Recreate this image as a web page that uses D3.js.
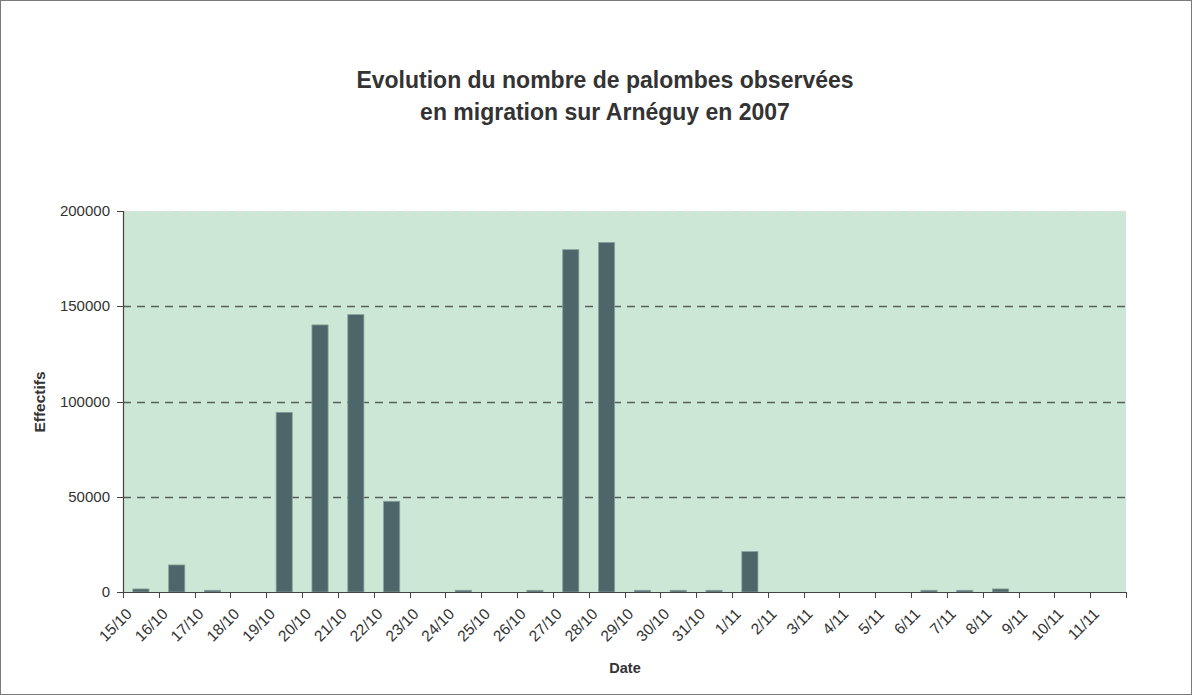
<!DOCTYPE html>
<html><head><meta charset="utf-8">
<script src="https://cdn.jsdelivr.net/npm/d3@7"></script>
<style>body{margin:0;background:#fff}svg{display:block}text{font-family:"Liberation Sans",Arial,sans-serif}</style>
</head><body>
<svg id="c" width="1192" height="695"></svg>
<script>
const categories = ["15/10","16/10","17/10","18/10","19/10","20/10","21/10","22/10","23/10","24/10","25/10","26/10","27/10","28/10","29/10","30/10","31/10","1/11","2/11","3/11","4/11","5/11","6/11","7/11","8/11","9/11","10/11","11/11"];
const values = [1600,14200,900,0,94300,140200,145600,47600,0,900,0,900,179700,183500,900,900,900,21200,0,0,0,0,900,900,1600,0,0,0];
const yTicks = [0,50000,100000,150000,200000];
const titleLines = ["Evolution du nombre de palombes observées","en migration sur Arnéguy en 2007"];

const svg = d3.select("#c");
const W = 1192, H = 695;
const m = {l:123, r:1126, t:211, b:592};

svg.append("rect").attr("x",0.5).attr("y",0.5).attr("width",W-1).attr("height",H-1)
  .attr("fill","#fff").attr("stroke","#7a7a7a");

const x = d3.scaleBand().domain(categories).range([m.l,m.r]).paddingInner(0.55).paddingOuter(0.275);
const xb = d3.scaleBand().domain(categories).range([m.l,m.r]);
const y = d3.scaleLinear().domain([0,200000]).range([m.b,m.t]);

svg.append("rect").attr("x",m.l).attr("y",m.t).attr("width",m.r-m.l).attr("height",m.b-m.t).attr("fill","#cde7d6");

// grid
svg.append("g").selectAll("line").data(yTicks.filter(d=>d>0)).join("line")
  .attr("x1",m.l).attr("x2",m.r).attr("y1",d=>Math.round(y(d))+0.5).attr("y2",d=>Math.round(y(d))+0.5)
  .attr("stroke",d=>d===200000?"#dde3dd":"#56605b").attr("stroke-width",1.3).attr("stroke-dasharray","8,6");

// bars
svg.append("g").selectAll("rect").data(values).join("rect")
  .attr("x",(d,i)=>x(categories[i])).attr("width",x.bandwidth())
  .attr("y",d=>y(d)).attr("height",d=>m.b-y(d))
  .attr("fill","#4e6669").attr("stroke","#86a09c").attr("stroke-width",0.8);

// x axis
const xa = svg.append("g");
xa.append("line").attr("x1",m.l).attr("x2",m.r).attr("y1",m.b+0.5).attr("y2",m.b+0.5).attr("stroke","#444").attr("stroke-width",1.2);
const bounds = categories.map(c=>xb(c)).concat([m.r]);
xa.selectAll("line.t").data(bounds).join("line").attr("class","t")
  .attr("x1",d=>Math.round(d)+0.5).attr("x2",d=>Math.round(d)+0.5).attr("y1",m.b).attr("y2",m.b+6).attr("stroke","#444");
xa.selectAll("text").data(categories).join("text")
  .attr("transform",d=>`translate(${xb(d)+xb.bandwidth()/2-8},${m.b+23}) rotate(-45)`)
  .attr("text-anchor","end").attr("font-size",15.5).attr("fill","#333").text(d=>d);

// y axis
const ya = svg.append("g");
ya.append("line").attr("x1",m.l+0.5).attr("x2",m.l+0.5).attr("y1",m.t).attr("y2",m.b).attr("stroke","#444").attr("stroke-width",1.2);
ya.selectAll("line.t").data(yTicks).join("line").attr("class","t")
  .attr("x1",m.l-6).attr("x2",m.l).attr("y1",d=>Math.round(y(d))+0.5).attr("y2",d=>Math.round(y(d))+0.5).attr("stroke","#444");
ya.selectAll("text").data(yTicks).join("text")
  .attr("x",m.l-13).attr("y",d=>y(d)+5).attr("text-anchor","end").attr("font-size",15).attr("fill","#333").text(d=>d);

// titles
svg.append("g").selectAll("text").data(titleLines).join("text")
  .attr("x",605).attr("y",(d,i)=>88+i*32).attr("text-anchor","middle")
  .attr("font-size",23).attr("font-weight","bold").attr("fill","#333").text(d=>d);
svg.append("text").attr("transform","translate(45,402) rotate(-90)").attr("text-anchor","middle")
  .attr("font-size",15.5).attr("font-weight","bold").attr("fill","#333").text("Effectifs");
svg.append("text").attr("x",625).attr("y",673).attr("text-anchor","middle")
  .attr("font-size",14.5).attr("font-weight","bold").attr("fill","#333").text("Date");
</script>
</body></html>
